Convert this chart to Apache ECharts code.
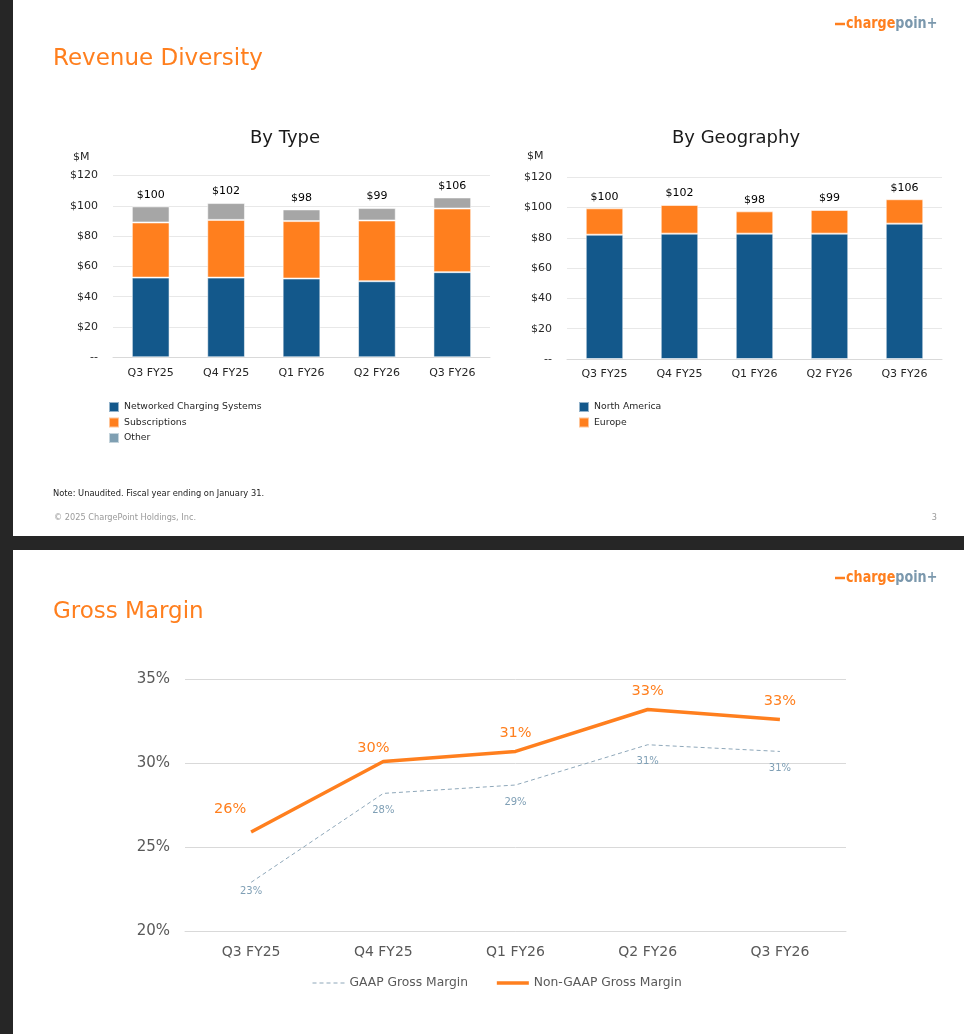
<!DOCTYPE html>
<html><head><meta charset="utf-8">
<script src="https://cdn.jsdelivr.net/npm/echarts@6/dist/echarts.min.js"></script>
<style>
html,body{margin:0;padding:0;background:#262626;width:964px;height:1034px;overflow:hidden}
.slide{position:absolute;background:#fff;left:13px;width:951px}
#chart{position:absolute;left:0;top:0;width:964px;height:1034px}
</style></head><body>
<div class="slide" style="top:0;height:536px"></div>
<div class="slide" style="top:550px;height:484px"></div>
<div id="chart"></div>
<script>
// ---- data ----
const quarters = ['Q3 FY25', 'Q4 FY25', 'Q1 FY26', 'Q2 FY26', 'Q3 FY26'];
const networkedCharging = [52.6, 52.6, 52.0, 50.2, 56.2];
const subscriptions = [36.4, 38.1, 37.9, 40.1, 42.0];
const otherRevenue = [10.6, 11.1, 7.7, 8.2, 7.3];
const northAmerica = [82.1, 82.8, 82.8, 82.8, 89.4];
const europe = [17.4, 18.9, 14.7, 15.6, 16.1];
const revenueTotals = ['$100', '$102', '$98', '$99', '$106'];
const gaapMargin = [22.9, 28.2, 28.7, 31.1, 30.7];
const nonGaapMargin = [25.9, 30.1, 30.7, 33.2, 32.6];
const gaapLabels = ['23%', '28%', '29%', '31%', '31%'];
const nonGaapLabels = ['26%', '30%', '31%', '33%', '33%'];

// ---- style ----
const FONT = 'DejaVu Sans';
const ORANGE = '#ff7f1e';
const BLUE = '#13588b';
const GRAY = '#a6a6a6';
const OTHER_LEGEND = '#7f9fb2';
const DARK = '#262626';
const GAAP_COLOR = '#8ea7b9';
const CLEAR = 'rgba(0,0,0,0)';
// per-point label nudges (styling only)
const nonGaapLabelOffsets = [[-21, -4], [-10, 5], [0, 0], [0, 0], [0, 0]];

const chart = echarts.init(document.getElementById('chart'), null, {renderer: 'canvas'});

function revXAxis(gridIndex) {
  return {
    type: 'category', gridIndex: gridIndex, data: quarters,
    axisTick: {show: false},
    axisLine: {lineStyle: {color: '#d9d9d9'}},
    axisLabel: {fontFamily: FONT, fontSize: 11, color: DARK, margin: 10}
  };
}
function revYAxis(gridIndex) {
  return {
    type: 'value', gridIndex: gridIndex, min: 0, max: 120, interval: 20,
    axisLine: {show: false}, axisTick: {show: false},
    splitLine: {lineStyle: {color: '#e8e8e8'}},
    axisLabel: {fontFamily: FONT, fontSize: 11, color: DARK, margin: 15,
      formatter: v => v === 0 ? '--' : '$' + v}
  };
}
const barBase = {type: 'bar', barWidth: '50%',
  itemStyle: {borderColor: 'rgba(255,255,255,0.55)', borderWidth: 1}};
const totalLabel = {show: true, position: 'top', distance: 6, fontFamily: FONT,
  fontSize: 11, color: '#000', formatter: p => revenueTotals[p.dataIndex]};

function gText(x, y, text, style, extra) {
  return Object.assign({type: 'text', x: x, y: y, silent: true,
    style: Object.assign({text: text, fontFamily: FONT, fill: DARK}, style)}, extra || {});
}
function logo(y) {
  return {type: 'group', silent: true, children: [
    {type: 'line', shape: {x1: 835, y1: y, x2: 845, y2: y}, style: {stroke: ORANGE, lineWidth: 2.5}},
    {type: 'text', x: 846, y: y, scaleX: 0.85, style: {
      text: '{a|charge}{b|poin+}', verticalAlign: 'middle',
      rich: {a: {fontFamily: FONT, fontWeight: 'bold', fontSize: 15, fill: ORANGE},
             b: {fontFamily: FONT, fontWeight: 'bold', fontSize: 15, fill: '#7b98ad'}}}}
  ]};
}

const option = {
  animation: false,
  textStyle: {fontFamily: FONT},
  grid: [
    {left: 113, right: 474, top: 175.5, bottom: 676.7},
    {left: 567, right: 22, top: 177.3, bottom: 675},
    {left: 185, right: 118, top: 679.3, bottom: 103}
  ],
  xAxis: [revXAxis(0), revXAxis(1), {
    type: 'category', gridIndex: 2, data: quarters,
    axisTick: {show: false},
    axisLine: {lineStyle: {color: '#d9d9d9'}},
    axisLabel: {fontFamily: FONT, fontSize: 14, color: '#595959', margin: 14}
  }],
  yAxis: [revYAxis(0), revYAxis(1), {
    type: 'value', gridIndex: 2, min: 20, max: 35, interval: 5,
    axisLine: {show: false}, axisTick: {show: false},
    splitLine: {lineStyle: {color: '#d9d9d9'}},
    axisLabel: {fontFamily: FONT, fontSize: 15, color: '#595959', margin: 15,
      formatter: v => v + '%'}
  }],
  legend: [
    {orient: 'vertical', left: 108, top: 401, padding: 0, itemWidth: 10, itemHeight: 10, itemGap: 3.5,
     icon: 'rect', selectedMode: false,
     textStyle: {fontFamily: FONT, fontSize: 9.3, color: DARK},
     data: [{name: 'Networked Charging Systems'}, {name: 'Subscriptions'},
            {name: 'Other', itemStyle: {color: OTHER_LEGEND}}]},
    {orient: 'vertical', left: 578, top: 401, padding: 0, itemWidth: 10, itemHeight: 10, itemGap: 3.5,
     icon: 'rect', selectedMode: false,
     textStyle: {fontFamily: FONT, fontSize: 9.3, color: DARK},
     data: ['North America', 'Europe']},
    {orient: 'horizontal', left: 312, top: 977, padding: 0, itemWidth: 32, itemHeight: 14, itemGap: 27,
     selectedMode: false,
     textStyle: {fontFamily: FONT, fontSize: 12.3, color: '#595959'},
     data: [{name: 'GAAP Gross Margin', lineStyle: {width: 1, type: [4, 3], color: GAAP_COLOR}},
            {name: 'Non-GAAP Gross Margin', lineStyle: {width: 3.5, color: ORANGE}}]}
  ],
  series: [
    Object.assign({}, barBase, {name: 'Networked Charging Systems', stack: 'type', xAxisIndex: 0, yAxisIndex: 0,
      data: networkedCharging, itemStyle: Object.assign({}, barBase.itemStyle, {color: BLUE})}),
    Object.assign({}, barBase, {name: 'Subscriptions', stack: 'type', xAxisIndex: 0, yAxisIndex: 0,
      data: subscriptions, itemStyle: Object.assign({}, barBase.itemStyle, {color: ORANGE})}),
    Object.assign({}, barBase, {name: 'Other', stack: 'type', xAxisIndex: 0, yAxisIndex: 0,
      data: otherRevenue, label: totalLabel,
      itemStyle: Object.assign({}, barBase.itemStyle, {color: GRAY})}),
    Object.assign({}, barBase, {name: 'North America', stack: 'geo', xAxisIndex: 1, yAxisIndex: 1,
      data: northAmerica, itemStyle: Object.assign({}, barBase.itemStyle, {color: BLUE})}),
    Object.assign({}, barBase, {name: 'Europe', stack: 'geo', xAxisIndex: 1, yAxisIndex: 1,
      data: europe, label: totalLabel,
      itemStyle: Object.assign({}, barBase.itemStyle, {color: ORANGE})}),
    {name: 'GAAP Gross Margin', type: 'line', xAxisIndex: 2, yAxisIndex: 2,
     symbol: 'circle', symbolSize: 2, showSymbol: true,
     itemStyle: {color: CLEAR, borderWidth: 0},
     lineStyle: {color: GAAP_COLOR, width: 1, type: [4, 3]},
     data: gaapMargin.map((v, i) => ({value: v, label: i === 0 ? {distance: 3} : {}})),
     label: {show: true, position: 'bottom', distance: 11, fontFamily: FONT, fontSize: 10,
       color: '#7f9fb5', formatter: p => gaapLabels[p.dataIndex]}},
    {name: 'Non-GAAP Gross Margin', type: 'line', xAxisIndex: 2, yAxisIndex: 2,
     symbol: 'circle', symbolSize: 2, showSymbol: true,
     itemStyle: {color: CLEAR, borderWidth: 0},
     lineStyle: {color: ORANGE, width: 3.5},
     data: nonGaapMargin.map((v, i) => ({value: v, label: {offset: nonGaapLabelOffsets[i]}})),
     label: {show: true, position: 'top', distance: 10, fontFamily: FONT, fontSize: 14.5,
       color: ORANGE, formatter: p => nonGaapLabels[p.dataIndex]}}
  ],
  graphic: [
    gText(53, 59, 'Revenue Diversity', {fontSize: 23, fill: ORANGE, verticalAlign: 'middle'}),
    gText(285, 138, 'By Type', {fontSize: 18, align: 'center', verticalAlign: 'middle', fill: '#1a1a1a'}),
    gText(736, 138, 'By Geography', {fontSize: 18, align: 'center', verticalAlign: 'middle', fill: '#1a1a1a'}),
    gText(73, 157, '$M', {fontSize: 11, verticalAlign: 'middle'}),
    gText(527, 156, '$M', {fontSize: 11, verticalAlign: 'middle'}),
    gText(53, 494, 'Note: Unaudited. Fiscal year ending on January 31.', {fontSize: 8.3, verticalAlign: 'middle', fill: '#222'}),
    gText(54, 518, '\u00a9 2025 ChargePoint Holdings, Inc.', {fontSize: 8.2, verticalAlign: 'middle', fill: '#9a9a9a'}),
    gText(937, 518, '3', {fontSize: 8.2, align: 'right', verticalAlign: 'middle', fill: '#9a9a9a'}),
    gText(53, 612, 'Gross Margin', {fontSize: 23, fill: ORANGE, verticalAlign: 'middle'}),
    logo(24),
    logo(578)
  ]
};
chart.setOption(option);
</script>
</body></html>
